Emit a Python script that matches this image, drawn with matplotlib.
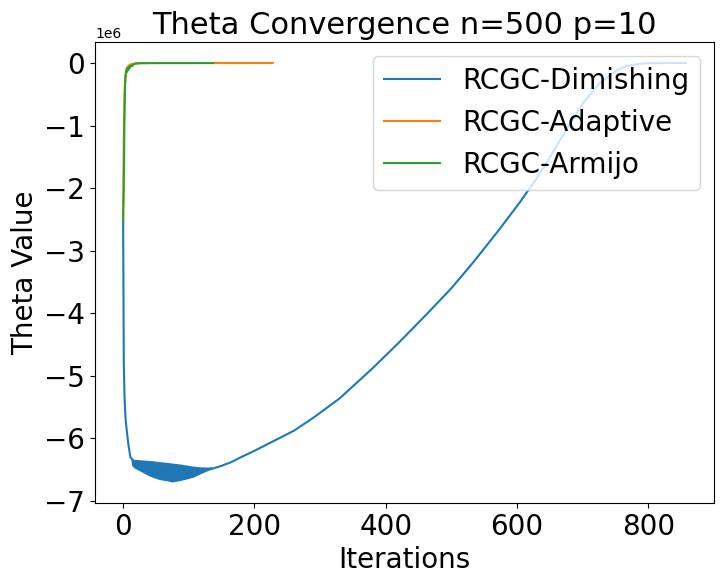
import matplotlib
matplotlib.use("Agg")
import matplotlib.pyplot as plt

# RCGC-Dimishing: main path (iteration, theta value in units of 1e6)
dim_iter = [0, 1, 2, 3, 4, 6, 8, 11, 16, 41, 67, 90, 107, 117, 128, 138, 150, 165, 178, 200,
            230, 260, 290, 330, 381, 420, 462, 500, 533, 573, 604, 630, 650, 675, 700, 725,
            750, 766, 785, 801, 830, 857]
dim_val = [-2.52, -4.80, -5.30, -5.55, -5.72, -5.92, -6.10, -6.30, -6.36, -6.38, -6.41, -6.44,
           -6.47, -6.48, -6.485, -6.48, -6.44, -6.38, -6.31, -6.20,
           -6.04, -5.88, -5.67, -5.36, -4.87, -4.47, -4.02, -3.60, -3.19, -2.66, -2.23, -1.84,
           -1.51, -1.06, -0.65, -0.33, -0.13, -0.05, -0.015, -0.004, -0.001, 0.0]

# oscillation band of RCGC-Dimishing (upper / lower envelope)
band_iter = [11, 13, 16, 25, 41, 55, 67, 74, 85, 97, 107, 117, 128, 138, 150]
band_upper = [-6.30, -6.34, -6.36, -6.37, -6.38, -6.40, -6.41, -6.42, -6.43, -6.45, -6.47,
              -6.48, -6.485, -6.48, -6.44]
band_lower = [-6.30, -6.43, -6.47, -6.52, -6.61, -6.66, -6.68, -6.70, -6.68, -6.65, -6.62,
              -6.57, -6.52, -6.48, -6.44]

# RCGC-Adaptive
ada_iter = [0, 1, 2, 3, 4, 5, 6, 8, 10, 14, 20, 30, 228]
ada_val = [-2.52, -1.20, -0.50, -0.25, -0.15, -0.10, -0.07, -0.05, -0.03, -0.015, -0.005,
           -0.002, -0.001]

# RCGC-Armijo
arm_iter = [0, 1, 2, 3, 4, 5, 6, 7, 8, 9, 10, 12, 14, 16, 20, 25, 40, 137]
arm_val = [-2.52, -1.93, -0.90, -0.35, -0.20, -0.12, -0.14, -0.08, -0.11, -0.06, -0.08,
           -0.04, -0.05, -0.02, -0.01, -0.005, -0.002, -0.001]

scale = 1e6

fig = plt.figure(figsize=(7.24, 5.84), dpi=100)
ax = fig.add_axes([95 / 724, 1 - 503 / 584, (714 - 95) / 724, (503 - 42) / 584])

ax.plot(dim_iter, [v * scale for v in dim_val], color="#1f77b4", label="RCGC-Dimishing")
ax.fill_between(band_iter, [v * scale for v in band_upper], [v * scale for v in band_lower],
                color="#1f77b4", linewidth=0)
ax.plot(ada_iter, [v * scale for v in ada_val], color="#ff7f0e", label="RCGC-Adaptive")
ax.plot(arm_iter, [v * scale for v in arm_val], color="#2ca02c", label="RCGC-Armijo")

ax.set_title("Theta Convergence n=500 p=10", fontsize=22)
ax.set_xlabel("Iterations", fontsize=20)
ax.set_ylabel("Theta Value", fontsize=20)
ax.tick_params(labelsize=20)
ax.legend(fontsize=20, loc="upper right")

fig.savefig("out.png", dpi=100)
